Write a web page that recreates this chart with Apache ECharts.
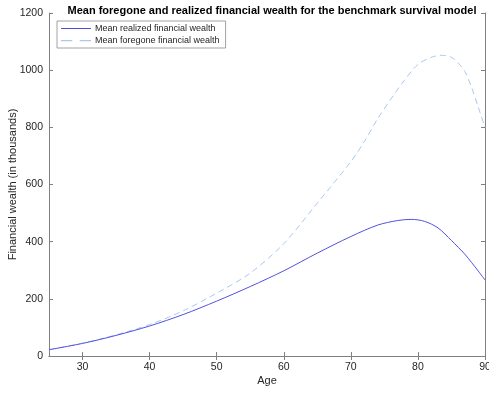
<!DOCTYPE html>
<html style="height: 100%">
<head>
<meta charset="utf-8">
<script src="https://cdn.jsdelivr.net/npm/echarts@6/dist/echarts.min.js"></script>
</head>
<body style="height: 100%; margin: 0; background: #fff">
<div id="container" style="width: 489px; height: 393px"></div>
<script>
// values (age, thousands)
var realizedAge = [25, 30, 35, 40, 45, 50, 55, 60, 65, 70, 74, 77, 79, 81, 83, 85, 87, 88, 89, 90];
var realizedVal = [22, 44, 72, 105, 145, 192, 243, 298, 360, 418, 458, 474, 478, 471, 448, 404, 356, 327, 297, 266];
var foregoneAge = [25, 30, 35, 40, 45, 50, 55, 60, 65, 70, 72, 74, 76, 78, 80, 82, 83.5, 85, 86, 87, 88, 89, 90];
var foregoneVal = [22, 45, 74, 110, 158, 220, 290, 393, 535, 680, 750, 830, 900, 965, 1020, 1045, 1052, 1045, 1025, 995, 940, 870, 800];
var xTicks = [30, 40, 50, 60, 70, 80, 90];

function pairs(xs, ys) {
    return xs.map(function (x, i) { return [x, ys[i]]; });
}

var chart = echarts.init(document.getElementById('container'));
var axisCol = '#808080';
var txtCol = '#262626';
var font = 'Liberation Sans';

option = {
    animation: false,
    textStyle: { fontFamily: font },
    title: {
        text: 'Mean foregone and realized financial wealth for the benchmark survival model',
        left: 267,
        textAlign: 'center',
        top: 0,
        textStyle: { fontSize: 11, fontWeight: 'bold', color: '#000', fontFamily: font }
    },
    legend: {
        orient: 'vertical',
        left: 57,
        top: 21,
        backgroundColor: '#fff',
        borderColor: '#8a8a8a',
        borderWidth: 0.8,
        borderRadius: 0,
        padding: [3, 6, 3, 4],
        itemGap: 3,
        itemWidth: 30,
        itemHeight: 8,
        textStyle: { fontSize: 9, color: txtCol, fontFamily: font, padding: [0, 0, 0, -1] },
        data: [
            { name: 'Mean realized financial wealth', icon: 'path://M0,4 L30,4 L30,5 L0,5 Z' },
            { name: 'Mean foregone financial wealth', icon: 'path://M0,4 L9,4 L9,5 L0,5 Z M15,4 L24,4 L24,5 L15,5 Z' }
        ]
    },
    grid: { left: 49, right: 4, top: 13, bottom: 37, show: false, outerBoundsMode: 'none', containLabel: false },
    xAxis: [{
        type: 'value',
        min: 25,
        max: 90,
        name: 'Age',
        nameLocation: 'middle',
        nameGap: 19,
        nameMoveOverlap: false,
        nameTextStyle: { fontSize: 11, color: txtCol },
        axisLine: { show: true, lineStyle: { color: axisCol, width: 1 } },
        axisTick: { show: true, inside: true, length: 4, customValues: xTicks, lineStyle: { color: axisCol } },
        axisLabel: { customValues: xTicks, fontSize: 10.5, color: txtCol, margin: 6, formatter: '{value}' },
        splitLine: { show: false }
    }, {
        type: 'value',
        position: 'top',
        min: 25,
        max: 90,
        axisLine: { show: true, lineStyle: { color: axisCol, width: 1 } },
        axisTick: { show: true, inside: true, length: 4, customValues: xTicks, lineStyle: { color: axisCol } },
        axisLabel: { show: false },
        splitLine: { show: false }
    }],
    yAxis: [{
        type: 'value',
        min: 0,
        max: 1200,
        interval: 200,
        name: 'Financial wealth (in thousands)',
        nameLocation: 'middle',
        nameGap: 31,
        nameMoveOverlap: false,
        nameTextStyle: { fontSize: 11, color: txtCol },
        axisLine: { show: true, lineStyle: { color: axisCol, width: 1 } },
        axisTick: { show: true, inside: true, length: 4, lineStyle: { color: axisCol } },
        axisLabel: { fontSize: 10.5, color: txtCol, margin: 6, formatter: function (v) { return String(v); } },
        splitLine: { show: false }
    }, {
        type: 'value',
        position: 'right',
        min: 0,
        max: 1200,
        interval: 200,
        axisLine: { show: true, lineStyle: { color: axisCol, width: 1 } },
        axisTick: { show: true, inside: true, length: 4, lineStyle: { color: axisCol } },
        axisLabel: { show: false },
        splitLine: { show: false }
    }],
    series: [{
        name: 'Mean realized financial wealth',
        type: 'line',
        data: pairs(realizedAge, realizedVal),
        smooth: 0.3,
        showSymbol: false,
        lineStyle: { color: '#5050e0', width: 1 },
        itemStyle: { color: '#5050e0' },
        z: 3
    }, {
        name: 'Mean foregone financial wealth',
        type: 'line',
        data: pairs(foregoneAge, foregoneVal),
        smooth: 0.3,
        showSymbol: false,
        lineStyle: { color: '#a9c7ef', width: 1, type: [6, 4] },
        itemStyle: { color: '#a9c7ef' },
        z: 2
    }]
};

chart.setOption(option);
</script>
</body>
</html>
